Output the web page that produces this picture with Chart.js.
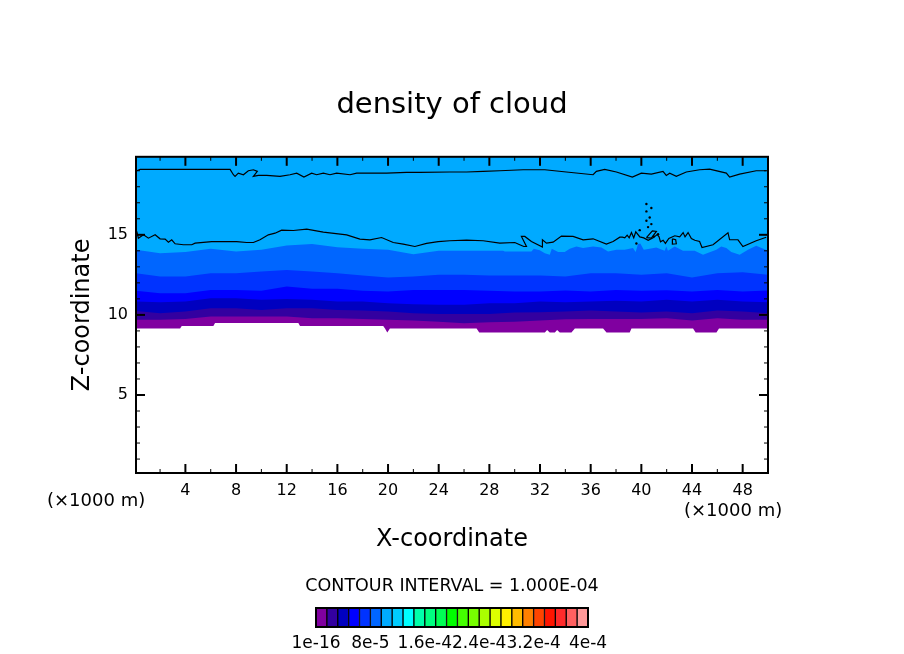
<!DOCTYPE html>
<html>
<head>
<meta charset="utf-8">
<title>density of cloud</title>
<script src="https://cdn.jsdelivr.net/npm/chart.js@4/dist/chart.umd.js"></script>
<style>
  body { margin: 0; background: #fff; }
  #wrap { position: relative; width: 904px; height: 654px; overflow: hidden; }
  canvas { position: absolute; left: 0; }
</style>
</head>
<body>
<div id="wrap">
  <canvas id="plot" width="904" height="654" style="top:0"></canvas>
  <canvas id="bar" width="904" height="84" style="top:570px"></canvas>
</div>
<script>
// x positions of the band edges (x1000 m)
const bandX = [0.1, 2, 4, 6, 8, 10, 12, 14, 16, 18, 20, 22, 24, 26, 28, 30, 32, 34, 36, 38, 40, 42, 44, 46, 48, 50];

// upper edge of each filled contour band (x1000 m)
const band1 = [9.69, 9.69, 9.75, 9.9, 9.9, 9.9, 9.9, 9.79, 9.79, 9.75, 9.69, 9.65, 9.58, 9.48, 9.54, 9.58, 9.65, 9.73, 9.75, 9.75, 9.75, 9.79, 9.65, 9.79, 9.69, 9.69];
const band2 = [10.25, 10.1, 10.21, 10.42, 10.42, 10.31, 10.42, 10.42, 10.31, 10.27, 10.21, 10.1, 10.06, 10.06, 10.06, 10.15, 10.17, 10.21, 10.27, 10.21, 10.15, 10.21, 10.1, 10.27, 10.21, 10.1];
const band3 = [10.83, 10.79, 10.83, 11.04, 11.04, 10.94, 11.0, 10.94, 10.83, 10.83, 10.73, 10.67, 10.63, 10.63, 10.73, 10.73, 10.83, 10.79, 10.83, 10.88, 10.83, 10.94, 10.83, 10.94, 10.83, 10.79];
const band4 = [11.5, 11.35, 11.35, 11.56, 11.56, 11.5, 11.77, 11.63, 11.63, 11.5, 11.46, 11.56, 11.56, 11.56, 11.5, 11.46, 11.46, 11.52, 11.46, 11.56, 11.5, 11.54, 11.46, 11.56, 11.46, 11.52];
const band5 = [12.6, 12.4, 12.4, 12.6, 12.6, 12.71, 12.81, 12.71, 12.6, 12.46, 12.33, 12.4, 12.5, 12.5, 12.46, 12.46, 12.46, 12.4, 12.6, 12.6, 12.5, 12.6, 12.33, 12.6, 12.67, 12.5];
const band7 = [19.87, 19.87, 19.87, 19.87, 19.87, 19.87, 19.87, 19.87, 19.87, 19.87, 19.87, 19.87, 19.87, 19.87, 19.87, 19.87, 19.87, 19.87, 19.87, 19.87, 19.87, 19.87, 19.87, 19.87, 19.87, 19.87];
const bandColors = ['#8000a0', '#3300a0', '#0000c0', '#0000ff', '#0033ff', '#00aaff'];

// the 0066ff band has a rougher top, so it gets its own x positions
const band6X = [0.1, 2, 4, 6, 8, 10, 12, 14, 16, 18, 20, 22, 24, 24.88, 29.09, 29.22, 31.32, 31.51, 31.98, 32.38, 32.77, 32.93, 33.43, 33.95, 34.35, 34.87, 35.4, 36.19, 36.85, 37.37, 38.03, 38.69, 39.34, 39.55, 39.74, 39.92, 40.19, 40.66, 41.18, 41.84, 41.97, 42.1, 42.63, 43.29, 44.21, 44.87, 45.92, 46.31, 46.71, 47.1, 47.76, 48.42, 49.07, 50];
const band6 = [14.06, 13.85, 13.92, 14.13, 13.96, 14.06, 14.33, 14.42, 14.23, 14.13, 14.06, 13.79, 14.0, 14.0, 14.0, 13.96, 13.96, 14.13, 14.04, 13.85, 13.75, 14.13, 13.92, 13.92, 14.13, 14.27, 14.17, 14.27, 14.21, 13.96, 14.06, 14.06, 14.17, 13.92, 14.42, 14.46, 14.06, 14.13, 14.21, 14.0, 14.27, 14.0, 14.27, 14.0, 14.0, 13.75, 14.06, 14.27, 14.17, 13.92, 13.75, 14.06, 14.31, 14.0];

// cloud base, white below it
const baseX = [0.1, 3.58, 3.71, 6.21, 6.34, 12.92, 13.05, 19.62, 19.76, 19.94, 20.15, 26.99, 27.2, 32.38, 32.56, 32.77, 33.17, 33.35, 33.56, 34.48, 34.75, 36.98, 37.25, 39.08, 39.22, 44.08, 44.29, 45.93, 46.13, 50];
const baseY = [9.15, 9.15, 9.31, 9.31, 9.5, 9.5, 9.31, 9.31, 9.15, 8.9, 9.15, 9.15, 8.9, 8.9, 9.06, 8.9, 8.9, 9.06, 8.9, 8.9, 9.15, 9.15, 8.9, 8.9, 9.15, 9.15, 8.9, 8.9, 9.15, 9.15];

// black contour lines
const upperX = [0.16, 0.43, 7.53, 7.79, 7.92, 8.18, 8.58, 8.97, 9.37, 9.68, 9.37, 9.76, 10.42, 11.47, 12.26, 12.79, 13.36, 13.97, 14.36, 14.89, 15.42, 15.94, 17, 17.52, 19.89, 21.46, 22.52, 24.88, 26.2, 27.51, 28.82, 30.67, 32.38, 34.08, 36.19, 36.45, 37.11, 38.03, 39.29, 40, 40.79, 41.71, 41.97, 42.24, 42.76, 43.55, 44.6, 45.39, 46.71, 46.97, 47.76, 49.07, 49.86];
const upperY = [19.0, 19.08, 19.08, 18.75, 18.65, 18.85, 18.75, 19.0, 19.06, 18.96, 18.65, 18.71, 18.71, 18.65, 18.75, 18.85, 18.6, 18.85, 18.75, 18.85, 18.75, 18.85, 18.75, 18.85, 18.85, 18.9, 18.9, 18.92, 18.92, 18.96, 19.0, 19.06, 19.06, 18.92, 18.75, 18.96, 19.08, 18.92, 18.6, 18.85, 18.79, 18.96, 18.71, 18.85, 18.65, 18.92, 19.06, 19.1, 18.85, 18.6, 18.79, 19.0, 19.0];
const lowerX = [0.16, 0.29, 0.69, 1.08, 1.61, 2.0, 2.4, 2.66, 2.92, 3.19, 3.84, 4.5, 4.77, 6.08, 8.05, 8.84, 9.37, 9.89, 10.55, 11.08, 11.6, 12.52, 13.58, 14.89, 16.73, 17.78, 18.57, 19.49, 20.41, 21.2, 22.12, 23.04, 23.96, 24.88, 26.2, 27.51, 28.82, 30.01, 30.4, 30.72, 30.93, 30.53, 30.8, 31.32, 32.19, 32.19, 32.51, 33.03, 33.69, 34.61, 35.4, 36.19, 37.24, 37.77, 38.3, 38.51, 38.69, 38.88, 39.04, 39.22, 39.4, 39.56, 39.88, 40.19, 40.54, 40.93, 41.25, 41.4, 41.51, 41.72, 41.9, 42.17, 42.64, 43.03, 43.3, 43.45, 43.69, 43.95, 44.22, 44.6, 44.79, 45.66, 46.84, 46.97, 47.63, 48.02, 49.07, 49.86];
const lowerY = [15.21, 14.79, 15.0, 14.79, 15.0, 14.75, 14.73, 14.54, 14.69, 14.44, 14.38, 14.38, 14.48, 14.58, 14.58, 14.52, 14.52, 14.69, 15.0, 15.1, 15.29, 15.27, 15.35, 15.17, 15.0, 14.73, 14.69, 14.83, 14.52, 14.42, 14.27, 14.46, 14.58, 14.63, 14.67, 14.63, 14.48, 14.52, 14.38, 14.27, 14.27, 14.9, 14.9, 14.58, 14.23, 14.69, 14.48, 14.54, 14.92, 14.9, 14.69, 14.75, 14.42, 14.58, 14.85, 14.85, 14.81, 14.98, 14.81, 15.14, 14.81, 15.19, 14.87, 14.81, 14.66, 14.81, 15.02, 14.87, 14.56, 14.66, 14.46, 14.77, 14.94, 14.87, 15.14, 14.87, 15.14, 14.77, 14.66, 14.58, 14.21, 14.38, 15.13, 14.69, 14.69, 14.27, 14.63, 14.85];
const loopAX = [40.4, 40.87, 41.19, 40.79, 40.4];
const loopAY = [14.83, 15.25, 15.21, 14.79, 14.83];
const loopBX = [42.45, 42.71, 42.76, 42.45, 42.45];
const loopBY = [14.75, 14.69, 14.44, 14.42, 14.75];
const speckX = [40.4, 40.79, 40.4, 40.66, 40.4, 40.79, 40.53, 39.87, 39.61, 41.32, 40.98];
const speckY = [16.92, 16.67, 16.46, 16.08, 15.88, 15.67, 15.48, 15.29, 14.46, 15.04, 14.9];

// axes
const xMajor = [4, 8, 12, 16, 20, 24, 28, 32, 36, 40, 44, 48];
const xMinor = [2, 6, 10, 14, 18, 22, 26, 30, 34, 38, 42, 46];
const yMajor = [5, 10, 15];
const yMinor = [1, 2, 3, 4, 6, 7, 8, 9, 11, 12, 13, 14, 16, 17, 18, 19];

// colour bar
const levelColors = ['#8000a0', '#3300a0', '#0000c0', '#0000ff', '#0033ff', '#0066ff', '#00aaff', '#00ccff', '#00ffff', '#00ffaa', '#00ff80', '#00ff55', '#00ff00', '#44ff00', '#77ff00', '#aaff00', '#ddff00', '#fff000', '#ffbb00', '#ff8000', '#ff4400', '#ff1500', '#ff2a2a', '#ff6060', '#ff9999'];
const levelTicks = [0, 5, 10, 15, 20, 25];
const levelLabels = ['1e-16', '8e-5', '1.6e-4', '2.4e-4', '3.2e-4', '4e-4'];

const FONT = '"DejaVu Sans"';
const toPoints = (xs, ys) => xs.map((x, i) => ({ x: x, y: ys[i] }));
const contour = (xs, ys) => ({ data: toPoints(xs, ys), borderColor: '#000', borderWidth: 1.2, pointRadius: 0, fill: false });
const band = (xs, ys, color) => ({ data: toPoints(xs, ys), borderWidth: 0, pointRadius: 0, backgroundColor: color, fill: 'start' });

// empty side axis, only there to hold the plot at a fixed width
const spacer = (width, position) => ({
  type: 'linear',
  position: position,
  grid: { display: false, drawTicks: false },
  border: { display: false },
  ticks: { display: false },
  afterFit(s) { s.width = width; }
});

// frame around the plot, drawn above the fills
const framePlugin = {
  id: 'frame',
  afterDatasetsDraw(chart) {
    const a = chart.chartArea, c = chart.ctx;
    c.save();
    c.strokeStyle = '#000';
    c.lineWidth = 2;
    c.strokeRect(a.left, a.top, a.right - a.left, a.bottom - a.top);
    c.restore();
  }
};

// inward ticks on all four sides
const ticksPlugin = {
  id: 'inTicks',
  afterDatasetsDraw(chart) {
    const a = chart.chartArea, c = chart.ctx, sx = chart.scales.x, sy = chart.scales.y;
    const mark = (x1, y1, x2, y2, w) => {
      c.lineWidth = w;
      c.beginPath();
      c.moveTo(x1, y1);
      c.lineTo(x2, y2);
      c.stroke();
    };
    c.save();
    c.strokeStyle = '#000';
    [[xMajor, 9, 2], [xMinor, 4, 1]].forEach(([vals, len, w]) => vals.forEach(v => {
      const p = sx.getPixelForValue(v);
      mark(p, a.bottom, p, a.bottom - len, w);
      mark(p, a.top, p, a.top + len, w);
    }));
    [[yMajor, 9, 2], [yMinor, 4, 1]].forEach(([vals, len, w]) => vals.forEach(v => {
      const p = sy.getPixelForValue(v);
      mark(a.left, p, a.left + len, p, w);
      mark(a.right, p, a.right - len, p, w);
    }));
    c.restore();
  }
};

// the two unit labels below the x axis
const unitsPlugin = {
  id: 'units',
  afterDraw(chart) {
    const c = chart.ctx;
    c.save();
    c.fillStyle = '#000';
    c.font = '18px ' + FONT;
    c.textAlign = 'left';
    c.textBaseline = 'middle';
    c.fillText('(×1000 m)', 47, 501);
    c.fillText('(×1000 m)', 684, 511);
    c.restore();
  }
};

new Chart(document.getElementById('plot'), {
  type: 'line',
  data: {
    // first dataset is painted last, so the stack goes from the top band down
    datasets: [
      contour(upperX, upperY),
      contour(lowerX, lowerY),
      contour(loopAX, loopAY),
      contour(loopBX, loopBY),
      { data: toPoints(speckX, speckY), showLine: false, pointRadius: 1.2, pointBackgroundColor: '#000', pointBorderWidth: 0 },
      band(baseX, baseY, '#fff'),
      band(bandX, band1, bandColors[0]),
      band(bandX, band2, bandColors[1]),
      band(bandX, band3, bandColors[2]),
      band(bandX, band4, bandColors[3]),
      band(bandX, band5, bandColors[4]),
      band(band6X, band6, '#0066ff'),
      band(bandX, band7, bandColors[5])
    ]
  },
  options: {
    responsive: false,
    animation: false,
    plugins: {
      legend: { display: false },
      tooltip: { enabled: false },
      title: {
        display: true,
        text: 'density of cloud',
        color: '#000',
        font: { family: FONT, size: 29, weight: 'normal', lineHeight: 1.2 },
        padding: { top: 88, bottom: 34 }
      }
    },
    scales: {
      x: {
        type: 'linear',
        min: 0.1,
        max: 50,
        grid: { display: false, drawTicks: false },
        border: { display: false },
        afterBuildTicks(s) { s.ticks = xMajor.map(v => ({ value: v })); },
        afterFit(s) { s.height = 181; },
        ticks: { color: '#000', font: { family: FONT, size: 16 }, padding: 8, maxRotation: 0, autoSkip: false },
        title: {
          display: true,
          text: 'X-coordinate',
          color: '#000',
          font: { family: FONT, size: 24, lineHeight: 1.2 },
          padding: { top: 0, bottom: 100 }
        }
      },
      y: {
        type: 'linear',
        min: 0.13,
        max: 19.87,
        grid: { display: false, drawTicks: false },
        border: { display: false },
        afterBuildTicks(s) { s.ticks = yMajor.map(v => ({ value: v })); },
        afterFit(s) { s.width = 136; },
        ticks: { color: '#000', font: { family: FONT, size: 16 }, padding: 8, autoSkip: false },
        title: {
          display: true,
          text: 'Z-coordinate',
          color: '#000',
          font: { family: FONT, size: 24, lineHeight: 1.2 },
          padding: { top: 68, bottom: 0 }
        }
      },
      right: spacer(136, 'right')
    }
  },
  plugins: [framePlugin, ticksPlugin, unitsPlugin]
});

// colour bar with the contour interval above it
new Chart(document.getElementById('bar'), {
  type: 'bar',
  data: {
    datasets: [{
      data: levelColors.map((c, i) => ({ x: i + 0.5, y: 1 })),
      backgroundColor: levelColors,
      borderColor: '#000',
      borderWidth: 1,
      barPercentage: 1,
      categoryPercentage: 1
    }]
  },
  options: {
    responsive: false,
    animation: false,
    plugins: {
      legend: { display: false },
      tooltip: { enabled: false },
      title: {
        display: true,
        text: 'CONTOUR INTERVAL = 1.000E-04',
        color: '#000',
        font: { family: FONT, size: 17.5, weight: 'normal', lineHeight: 1.2 },
        padding: { top: 6, bottom: 11 }
      }
    },
    scales: {
      x: {
        type: 'linear',
        offset: false,
        min: 0,
        max: 25,
        grid: { display: false, drawTicks: false },
        border: { display: false },
        afterBuildTicks(s) { s.ticks = levelTicks.map(v => ({ value: v })); },
        afterFit(s) { s.height = 27; },
        ticks: {
          color: '#000',
          font: { family: FONT, size: 17 },
          padding: 6,
          maxRotation: 0,
          autoSkip: false,
          callback: v => levelLabels[levelTicks.indexOf(v)]
        }
      },
      y: Object.assign(spacer(316, 'left'), { min: 0, max: 1 }),
      right: spacer(316, 'right')
    }
  },
  plugins: [framePlugin]
});
</script>
</body>
</html>
